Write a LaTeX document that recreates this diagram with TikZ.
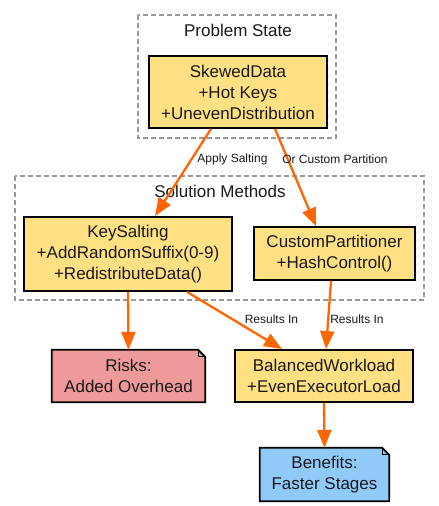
\documentclass[tikz,border=0pt]{standalone}
\usepackage{fontspec}
\setmainfont{Liberation Sans}
\usetikzlibrary{arrows.meta,calc}
\pgfdeclarelayer{background}
\pgfsetlayers{background,main}
\definecolor{edgeor}{HTML}{FF6600}
\definecolor{boxyel}{HTML}{FFE082}
\definecolor{notered}{HTML}{EF9A9A}
\definecolor{noteblue}{HTML}{90CAF9}
\definecolor{clgray}{HTML}{999999}
\begin{document}
\begin{tikzpicture}[x=1pt,y=-1pt,
  cluster/.style={draw=clgray,line width=1.2pt,dash pattern=on 5pt off 3pt},
  cltitle/.style={font=\fontsize{17}{21}\selectfont,text=black!90},
  classbox/.style={draw=black,line width=1.8pt,fill=boxyel,align=center,inner sep=0pt,
    font=\fontsize{17}{21}\selectfont,text=black!90},
  notetext/.style={align=center,inner sep=0pt,font=\fontsize{17}{21}\selectfont,text=black!90},
  conn/.style={draw=edgeor,line width=2.3pt,-{Triangle[length=18pt,width=14pt]}},
  elabel/.style={font=\fontsize{12}{14}\selectfont,text=black!90,inner sep=0pt},
  notefold/.style={draw=black,line width=1.8pt}
]
\useasboundingbox (0,0) rectangle (439,506);
\begin{pgfonlayer}{background}
\fill[white] (0,0) rectangle (439,506);
\end{pgfonlayer}

% clusters
\draw[cluster] (138,15) rectangle (336,138);
\node[cltitle] (tprob) at (238,30) {Problem State};
\draw[cluster] (15,176) rectangle (424,300);
\node[cltitle] (tsol) at (220,191) {Solution Methods};

% class boxes
\node[classbox,minimum width=178pt,minimum height=72pt] (sk) at (238,92)
  {SkewedData\\+Hot Keys\\+UnevenDistribution};
\node[classbox,minimum width=208pt,minimum height=74pt] (ks) at (128,254)
  {KeySalting\\+AddRandomSuffix(0-9)\\+RedistributeData()};
\node[classbox,minimum width=161pt,minimum height=53pt] (cp) at (334.5,253.5)
  {CustomPartitioner\\+HashControl()};
\node[classbox,minimum width=178pt,minimum height=52pt] (bw) at (324,376)
  {BalancedWorkload\\+EvenExecutorLoad};

% notes
\node[notetext,minimum width=153pt,minimum height=52pt] (risk) at (128.5,376)
  {Risks:\\Added Overhead};
\node[notetext,minimum width=129pt,minimum height=53pt] (ben) at (324.5,474.5)
  {Benefits:\\Faster Stages};
\begin{pgfonlayer}{background}
  \foreach \n/\c in {risk/notered,ben/noteblue}{
    \draw[notefold,fill=\c,line join=miter] (\n.north west) -- ([xshift=-7pt]\n.north east)
      -- ([yshift=-7pt]\n.north east) -- (\n.south east) -- (\n.south west) -- cycle;
    \draw[black,line width=1.2pt] ([xshift=-7pt]\n.north east) -- ([xshift=-7pt,yshift=-7pt]\n.north east)
      -- ([yshift=-7pt]\n.north east);
  }
\end{pgfonlayer}

% connectors
\draw[conn] ([xshift=-27pt]sk.south) -- ([xshift=27pt]ks.north);
\draw[conn] ([xshift=37pt]sk.south) -- ([xshift=-18.5pt]cp.north);
\draw[conn] (ks.south) -- (risk.north);
\draw[conn] ([xshift=59pt]ks.south) -- ([xshift=-42pt]bw.north);
\draw[conn] ([xshift=-3.5pt]cp.south) -- ([xshift=2pt]bw.north);
\draw[conn] (bw.south) -- (ben.north);

% edge labels
\node[elabel] (l1) at (232.5,159) {Apply Salting};
\node[elabel] (l2) at (335,159) {Or Custom Partition};
\node[elabel] (l3) at (271.5,319.5) {Results In};
\node[elabel] (l4) at (357,319.5) {Results In};
\end{tikzpicture}
\end{document}
